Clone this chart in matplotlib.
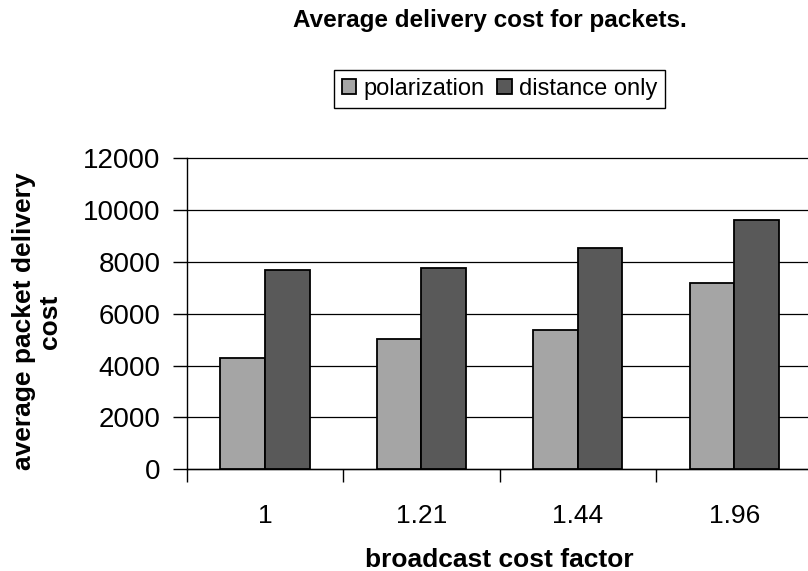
import matplotlib
matplotlib.use("Agg")
import matplotlib.pyplot as plt
import numpy as np
from matplotlib.ticker import NullFormatter

plt.rcParams['font.family'] = ['Liberation Sans', 'DejaVu Sans']

# Data
factors = ["1", "1.21", "1.44", "1.96"]
polarization = [4300, 5030, 5380, 7180]
distance_only = [7700, 7780, 8550, 9630]
series_names = ["polarization", "distance only"]
y_ticks = [0, 2000, 4000, 6000, 8000, 10000, 12000]

title = "Average delivery cost for packets."
x_label = "broadcast cost factor"
y_label = "average packet delivery\ncost"

W, H = 808, 571
fig = plt.figure(figsize=(W / 100, H / 100), dpi=100)

# plot area in pixel coordinates (right edge runs just past the figure)
px_left, px_right = 186.8, 812.4
px_bottom, px_top = 469.3, 158.3
ax = fig.add_axes([px_left / W, 1 - px_bottom / H,
                   (px_right - px_left) / W, (px_bottom - px_top) / H])

x = np.arange(len(factors))
bw = 1 / 3.5  # two bars plus a 150% gap per category
ax.bar(x - bw / 2, polarization, bw, color='#a5a5a5', edgecolor='black',
       linewidth=1.3, label=series_names[0], zorder=3)
ax.bar(x + bw / 2, distance_only, bw, color='#595959', edgecolor='black',
       linewidth=1.3, label=series_names[1], zorder=3)

ax.set_xlim(-0.5, len(factors) - 0.5)
ax.set_ylim(0, 12000)
ax.set_yticks(y_ticks)
ax.yaxis.grid(True, color='black', linewidth=0.9, clip_on=False)
ax.set_axisbelow(True)
for s in ['top', 'right']:
    ax.spines[s].set_visible(False)
for s in ['left', 'bottom']:
    ax.spines[s].set_linewidth(1.0)
    ax.spines[s].set_color('black')

ax.tick_params(axis='y', direction='out', length=10, width=1, pad=9,
               labelsize=20, colors='black')

# category separators as major ticks, category names on minor ticks
ax.set_xticks(np.arange(-0.5, len(factors), 1.0))
ax.xaxis.set_major_formatter(NullFormatter())
ax.set_xticks(x, minor=True)
ax.set_xticklabels(factors, minor=True)
ax.tick_params(axis='x', which='major', direction='out', length=9, width=1)
ax.tick_params(axis='x', which='minor', length=0, pad=25, labelsize=19)

fig.text(490 / W, 1 - 27 / H, title, ha='center', va='baseline',
         fontsize=17.5, fontweight='bold')
fig.text(499 / W, 1 - 567 / H, x_label, ha='center', va='baseline',
         fontsize=19, fontweight='bold')
fig.text(37 / W, 1 - 321.7 / H, y_label, ha='center', va='center',
         rotation=90, multialignment='center', linespacing=1.12,
         fontsize=19, fontweight='bold')

leg = fig.legend(loc='center', bbox_to_anchor=(499.5 / W, 1 - 89 / H),
                 ncol=2, fontsize=17, frameon=True, fancybox=False,
                 edgecolor='black', framealpha=1, handlelength=0.6,
                 handleheight=0.6, handletextpad=0.3, columnspacing=0.55,
                 borderpad=0.35, borderaxespad=0)
leg.get_frame().set_linewidth(1.0)

fig.savefig("out.png", dpi=100)
